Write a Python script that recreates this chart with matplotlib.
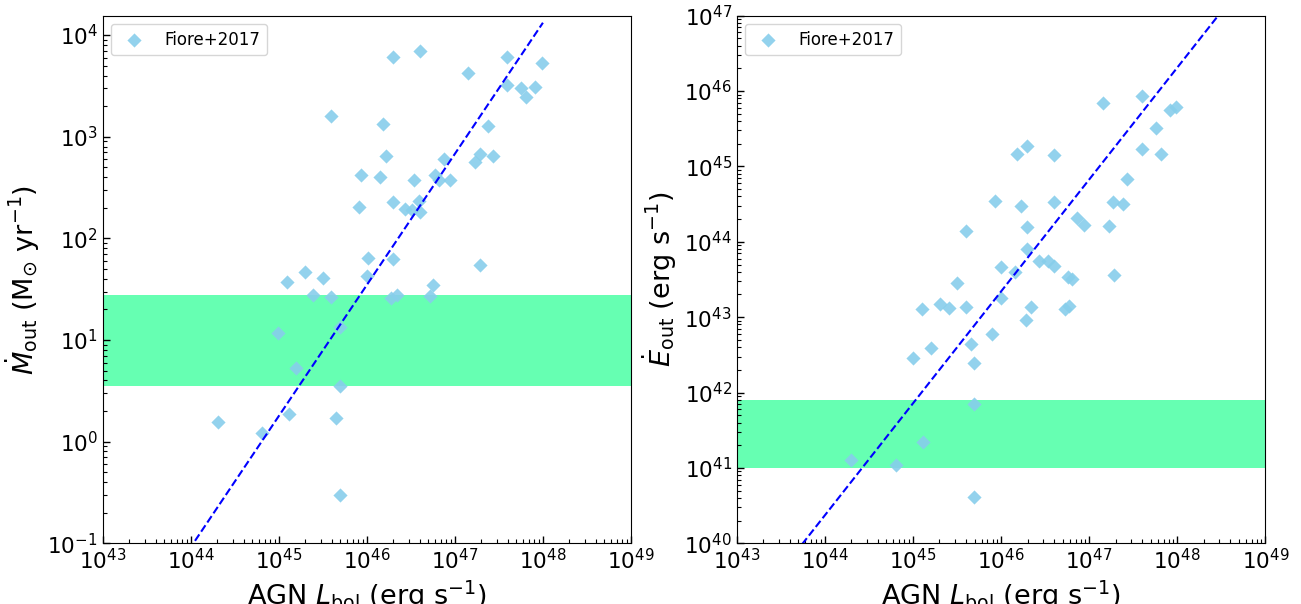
import numpy as np
import matplotlib
matplotlib.use("Agg")
import matplotlib.pyplot as plt
from matplotlib.ticker import LogLocator, NullFormatter

# ---- Data: left panel (mass outflow rate) ----
mdot_logL = [46.30, 46.60, 47.147, 47.588, 47.984, 47.596, 47.752, 47.905, 47.811,
             45.597, 46.188, 47.381, 46.215, 46.873, 47.291, 47.436, 47.225,
             45.934, 46.153, 46.54, 46.771, 46.822, 46.939, 45.906, 46.293,
             46.431, 46.508, 46.591, 46.599, 46.009, 46.30, 47.28, 46.004,
             45.097, 45.30, 45.503, 46.755, 45.394, 45.597, 46.274, 46.34,
             46.716, 45.70, 44.995, 45.199, 45.695, 45.112, 45.652, 44.307,
             44.807, 45.692]
mdot_vals = [6100, 7000, 4200, 6050, 5350, 3240, 3000, 3070, 2470,
             1600, 1340, 1280, 653, 607, 675, 649, 558,
             422, 401, 371, 422, 377, 371, 203, 229,
             196, 191, 231, 183, 64.6, 63, 54.8, 42.4,
             37.6, 46.8, 40.5, 34.5, 27.5, 26.6, 26.1, 27.5,
             27.4, 13.3, 11.7, 5.28, 3.52, 1.88, 1.72, 1.57,
             1.23, 0.297]

# ---- Data: right panel (kinetic power) ----
edot_logL = [47.155, 47.597, 47.914, 47.984, 47.757, 46.295, 46.182, 46.60, 47.597,
             47.82, 47.429, 45.935, 46.221, 46.60, 47.272, 47.389, 46.863,
             46.94, 47.226, 46.295, 45.607, 46.295, 46.432, 46.538, 46.60,
             45.998, 46.159, 46.764, 46.804, 47.284, 45.502, 45.998, 45.099,
             45.31, 45.412, 45.607, 46.335, 46.284, 46.725, 46.772, 45.897,
             45.658, 45.201, 45.001, 45.697, 45.697, 45.119, 44.302, 44.81,
             45.697]
edot_logE = [45.838, 45.939, 45.749, 45.785, 45.506, 45.271, 45.165, 45.148, 45.236,
             45.169, 44.837, 44.542, 44.471, 44.524, 44.532, 44.502, 44.312,
             44.223, 44.214, 44.201, 44.143, 43.909, 43.741, 43.741, 43.675,
             43.662, 43.596, 43.537, 43.507, 43.56, 43.458, 43.259, 43.109,
             43.171, 43.126, 43.135, 43.135, 42.958, 43.109, 43.148, 42.777,
             42.648, 42.595, 42.459, 42.392, 41.844, 41.344, 41.105, 41.039,
             40.618]

# ---- Fitted power-law relations (log y = y0 + slope*(log L - x0)) ----
mdot_fit = dict(x0=44.03, y0=-1.0, slope=1.29, xmin=43.0, xmax=48.0)
edot_fit = dict(x0=43.75, y0=40.0, slope=1.485, xmin=43.0, xmax=49.0)

# ---- Shaded bands ----
mdot_band = (3.5, 28.0)
edot_band = (1.0e41, 8.0e41)

legend_label = "Fiore+2017"

fig = plt.figure(figsize=(13.01, 6.04), dpi=100)
ax1 = fig.add_axes([0.0789, 0.1005, 0.4061, 0.8735])
ax2 = fig.add_axes([0.5663, 0.1005, 0.4063, 0.8735])


def style(ax, ylim):
    ax.set_xscale('log')
    ax.set_yscale('log')
    ax.set_xlim(1e43, 1e49)
    ax.set_ylim(*ylim)
    ax.xaxis.set_major_locator(LogLocator(base=10, numticks=20))
    ax.yaxis.set_major_locator(LogLocator(base=10, numticks=20))
    ax.xaxis.set_minor_locator(LogLocator(base=10, subs=np.arange(2, 10), numticks=100))
    ax.yaxis.set_minor_locator(LogLocator(base=10, subs=np.arange(2, 10), numticks=100))
    ax.xaxis.set_minor_formatter(NullFormatter())
    ax.yaxis.set_minor_formatter(NullFormatter())
    ax.tick_params(which='both', direction='in', top=False, right=False)
    ax.tick_params(which='major', length=5, width=1, labelsize=15.5)
    ax.tick_params(which='minor', length=3, width=0.8)
    ax.set_xlabel(r"AGN $L_{\rm bol}$ (erg s$^{-1}$)", fontsize=19.5)


# Left panel
style(ax1, (1e-1, 1.55e4))
ax1.axhspan(mdot_band[0], mdot_band[1], color='springgreen', alpha=0.6, lw=0, zorder=1)
xl = np.logspace(mdot_fit['xmin'], mdot_fit['xmax'], 200)
ax1.plot(xl, 10 ** (mdot_fit['y0'] + mdot_fit['slope'] * (np.log10(xl) - mdot_fit['x0'])),
         ls='--', color='blue', lw=1.5, zorder=3)
ax1.scatter(10 ** np.array(mdot_logL), mdot_vals, marker='D', s=52, color='skyblue',
            alpha=0.9, lw=0, zorder=2, label=legend_label)
ax1.set_ylabel(r"$\dot{M}_{\rm out}$ (M$_{\odot}$ yr$^{-1}$)", fontsize=19.5)
ax1.legend(loc='upper left', fontsize=12)

# Right panel
style(ax2, (1e40, 1e47))
ax2.axhspan(edot_band[0], edot_band[1], color='springgreen', alpha=0.6, lw=0, zorder=1)
xr = np.logspace(edot_fit['xmin'], edot_fit['xmax'], 200)
ax2.plot(xr, 10 ** (edot_fit['y0'] + edot_fit['slope'] * (np.log10(xr) - edot_fit['x0'])),
         ls='--', color='blue', lw=1.5, zorder=3)
ax2.scatter(10 ** np.array(edot_logL), 10 ** np.array(edot_logE), marker='D', s=52,
            color='skyblue', alpha=0.9, lw=0, zorder=2, label=legend_label)
ax2.set_ylabel(r"$\dot{E}_{\rm out}$ (erg s$^{-1}$)", fontsize=19.5)
ax2.legend(loc='upper left', fontsize=12)

fig.savefig("out.png", dpi=100)
